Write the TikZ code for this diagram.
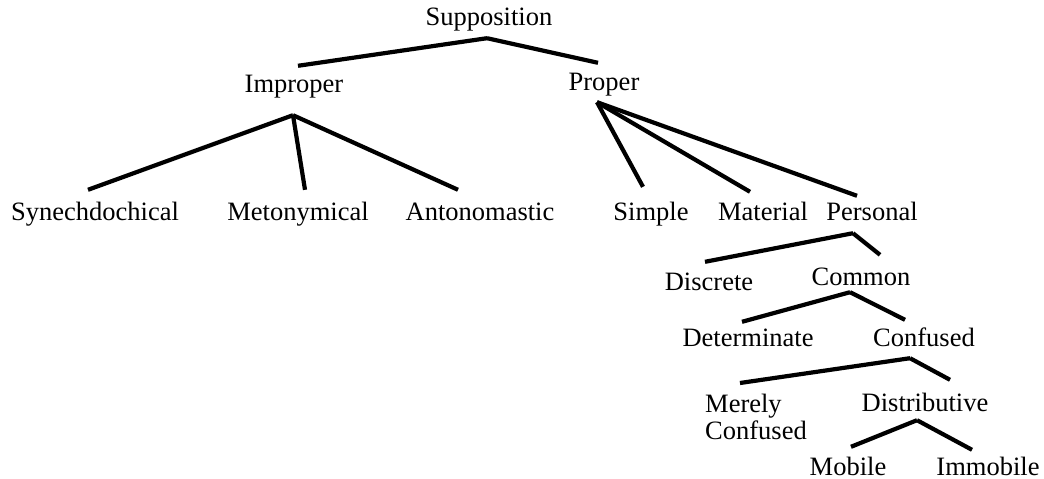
\documentclass[tikz,border=0pt]{standalone}
\usepackage{fontspec}
\setmainfont{Liberation Serif}
\usepackage{tikz}
\usetikzlibrary{calc,positioning}
\newcommand{\treefont}{\fontsize{26.5}{27}\selectfont}
\tikzset{
  lbl/.style={inner sep=0pt, font=\treefont, text height=17pt, text depth=5pt, anchor=base},
  branch/.style={line width=4.2pt}
}

\begin{document}
\begin{tikzpicture}[x=1pt,y=-1pt]
\useasboundingbox[fill=white] (0,0) rectangle (1044,479);
% labels
\node[lbl] (sup) at (489,25) {Supposition};
\node[lbl] (improper) at (294,92) {Improper}; \node[lbl] (proper) at (604,90) {Proper};
\node[lbl] (synech) at (95,220) {Synechdochical}; \node[lbl] (meton) at (298,220) {Metonymical}; \node[lbl] (anton) at (480,220) {Antonomastic};
\node[lbl] (simple) at (651,220) {Simple}; \node[lbl] (material) at (763,220) {Material}; \node[lbl] (personal) at (872,220) {Personal};
\node[lbl] (discrete) at (709,290) {Discrete}; \node[lbl] (common) at (861,285) {Common};
\node[lbl] (determ) at (748,346) {Determinate}; \node[lbl] (confused) at (924,346) {Confused};
\node[inner sep=0pt, font=\treefont, align=left, anchor=north west] (merely) at (705,394) {Merely\\Confused};
\node[lbl] (distrib) at (925,411) {Distributive};
\node[lbl, text depth=1pt] (mobile) at (848,475) {Mobile}; \node[lbl, text depth=1pt] (immobile) at (988,475) {Immobile};
% branches
\draw[branch] ([shift={(-2,8)}]sup.south) -- ([shift={(4,-9)}]improper.north);
\draw[branch] ([shift={(-2,8)}]sup.south) -- ([shift={(-6,-10)}]proper.north);
\draw[branch] ([shift={(-1,18)}]improper.south) -- ([shift={(-7,-13)}]synech.north);
\draw[branch] ([shift={(-1,18)}]improper.south) -- ([shift={(7,-13)}]meton.north);
\draw[branch] ([shift={(-1,18)}]improper.south) -- ([shift={(-22,-13)}]anton.north);
\draw[branch] ([shift={(-7,7)}]proper.south) -- ([shift={(-8,-16)}]simple.north);
\draw[branch] ([shift={(-7,7)}]proper.south) -- ([shift={(-13,-11)}]material.north);
\draw[branch] ([shift={(-7,7)}]proper.south) -- ([shift={(-15,-7)}]personal.north);
\draw[branch] ([shift={(-19,8)}]personal.south) -- ([shift={(-4,-11)}]discrete.north);
\draw[branch] ([shift={(-19,8)}]personal.south) -- ([shift={(19,-13)}]common.north);
\draw[branch] ([shift={(-11,2)}]common.south) -- ([shift={(-6,-7)}]determ.north);
\draw[branch] ([shift={(-11,2)}]common.south) -- ([shift={(-19,-9)}]confused.north);
\draw[branch] ([shift={(-14,7)}]confused.south) -- ([shift={(-16,-11)}]merely.north);
\draw[branch] ([shift={(-14,7)}]confused.south) -- ([shift={(25,-14)}]distrib.north);
\draw[branch] ([shift={(-8,4)}]distrib.south) -- ([shift={(3,-11)}]mobile.north);
\draw[branch] ([shift={(-8,4)}]distrib.south) -- ([shift={(-16,-8)}]immobile.north);
\end{tikzpicture}
\end{document}
